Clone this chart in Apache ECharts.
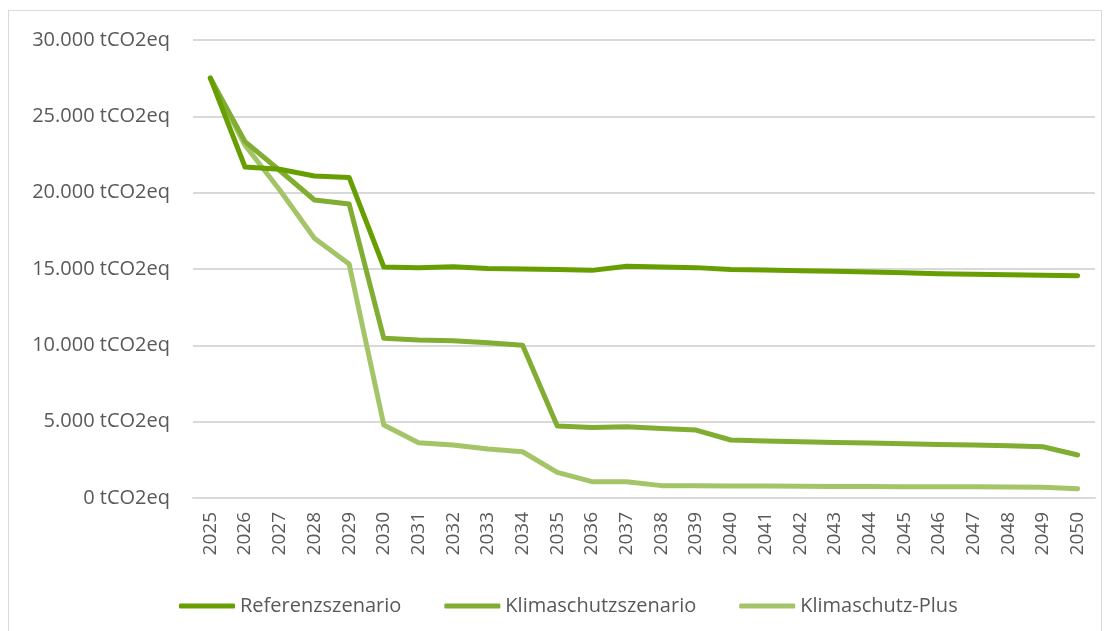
<!DOCTYPE html>
<html>
<head>
<meta charset="utf-8">
<script src="https://cdn.jsdelivr.net/npm/echarts@6/dist/echarts.min.js"></script>
<style>
	html, body {margin: 0;padding: 0;background: #ffffff;}
	#frame {position: absolute;left: 8px;top: 10px;width: 1094px;height: 640px;border: 1px solid #d9d9d9;box-sizing: border-box;}
	#chart {position: absolute;left: 0;top: 0;width: 1111px;height: 631px;}
</style>
</head>
<body>
<div id="frame"></div>
<div id="chart"></div>
<script>
	// Jahre 2025 - 2050
	var years = ['2025', '2026', '2027', '2028', '2029', '2030', '2031', '2032', '2033', '2034', '2035', '2036', '2037',
		'2038', '2039', '2040', '2041', '2042', '2043', '2044', '2045', '2046', '2047', '2048', '2049', '2050'];

	// Emissionen in tCO2eq
	var referenz = [27500, 21680, 21530, 21090, 21000, 15130, 15090, 15150, 15040, 15000, 14960, 14910, 15180,
		15130, 15090, 14960, 14930, 14890, 14850, 14800, 14760, 14690, 14650, 14620, 14590, 14560];
	var klimaschutz = [27500, 23340, 21450, 19520, 19260, 10460, 10350, 10300, 10170, 10000, 4720, 4610, 4670,
		4560, 4450, 3800, 3730, 3690, 3640, 3600, 3560, 3510, 3470, 3430, 3360, 2820];
	var klimaschutzPlus = [27500, 23100, 20170, 17010, 15330, 4780, 3620, 3470, 3210, 3030, 1680, 1070, 1070,
		810, 810, 790, 780, 770, 760, 750, 740, 730, 730, 720, 700, 610];

	var seriesNames = ['Referenzszenario', 'Klimaschutzszenario', 'Klimaschutz-Plus'];
	var seriesColors = ['#679e01', '#80ad32', '#a3c568'];

	function fmt(v) {
		return String(v).replace(/\B(?=(\d{3})+(?!\d))/g, '.') + ' tCO2eq';
	}

	var myChart = echarts.init(document.getElementById('chart'));
	var font = '"Open Sans", sans-serif';

	function lineSeries(i, data) {
		return {
			name: seriesNames[i], type: 'line', data: data,
			showSymbol: false, symbol: 'none',
			lineStyle: {width: 5, color: seriesColors[i], cap: 'round', join: 'round'},
			itemStyle: {color: seriesColors[i]},
			z: 10 - i
		};
	}

	var option = {
		animation: false,
		grid: {left: 193, right: 16, top: 40, bottom: 133},
		legend: {
			left: 174, top: 591, itemWidth: 56, itemHeight: 5, itemGap: 43,
			icon: 'roundRect',
			textStyle: {fontFamily: font, fontSize: 20, color: '#595959', padding: [0, 0, 0, 0]},
			data: seriesNames
		},
		xAxis: {
			type: 'category', data: years, boundaryGap: true,
			axisLine: {show: true, lineStyle: {color: '#d9d9d9', width: 2}},
			axisTick: {show: false},
			axisLabel: {rotate: 90, interval: 0, margin: 14, fontFamily: font, fontSize: 19, color: '#595959'}
		},
		yAxis: {
			type: 'value', min: 0, max: 30000, interval: 5000,
			axisLine: {show: false}, axisTick: {show: false},
			splitLine: {lineStyle: {color: '#d9d9d9', width: 2}},
			axisLabel: {margin: 23, fontFamily: font, fontSize: 20, color: '#595959', formatter: fmt}
		},
		series: [
			lineSeries(0, referenz),
			lineSeries(1, klimaschutz),
			lineSeries(2, klimaschutzPlus)
		]
	};
	myChart.setOption(option);
</script>
</body>
</html>
